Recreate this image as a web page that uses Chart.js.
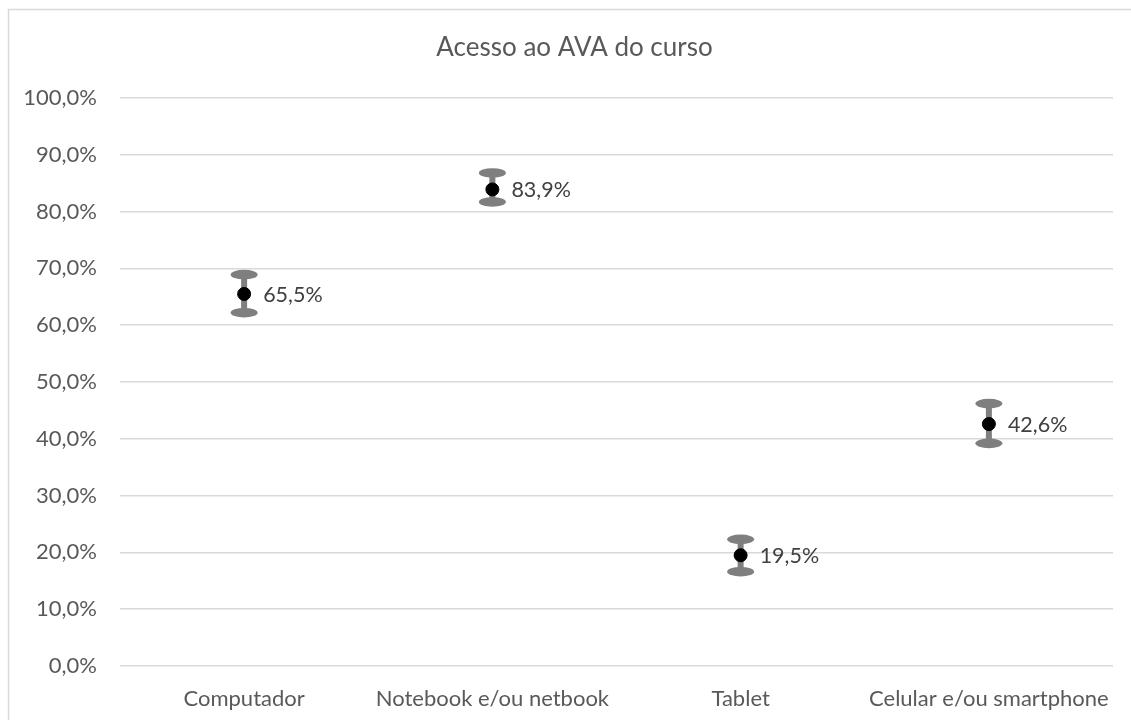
<!DOCTYPE html>
<html>
<head>
<meta charset="utf-8">
<script src="https://cdn.jsdelivr.net/npm/chart.js@4/dist/chart.umd.min.js"></script>
<style>
  html, body { margin: 0; padding: 0; background: #ffffff; }
  #wrap { position: relative; width: 1131px; height: 720px; }
</style>
</head>
<body>
<div id="wrap"><canvas id="c" width="1131" height="720"></canvas></div>
<script>
const chartTitle = 'Acesso ao AVA do curso';
const categories = ['Computador', 'Notebook e/ou netbook', 'Tablet', 'Celular e/ou smartphone'];
const values = [65.5, 83.9, 19.5, 42.6];
const errLow = [62.2, 81.7, 16.6, 39.2];
const errHigh = [68.9, 86.8, 22.3, 46.2];
const yMin = 0, yMax = 100, yStep = 10;

const FONT = 'Lato, "Open Sans", sans-serif';
const fmt = v => v.toFixed(1).replace('.', ',') + '%';

const frame = {
  id: 'frame',
  beforeDraw(chart) {
    const ctx = chart.ctx;
    ctx.save();
    ctx.fillStyle = '#ffffff';
    ctx.fillRect(0, 0, chart.width, chart.height);
    ctx.strokeStyle = '#d9d9d9';
    ctx.lineWidth = 1.5;
    ctx.beginPath();
    ctx.moveTo(8.5, chart.height + 2);
    ctx.lineTo(8.5, 9.5);
    ctx.lineTo(chart.width + 2, 9.5);
    ctx.stroke();
    ctx.fillStyle = '#595959';
    ctx.font = '26px ' + FONT;
    ctx.textAlign = 'center';
    ctx.textBaseline = 'middle';
    ctx.fillText(chartTitle, 574.5, 48);
    ctx.restore();
  }
};

const errorBars = {
  id: 'errorBars',
  beforeDatasetsDraw(chart) {
    const ctx = chart.ctx, xs = chart.scales.x, ys = chart.scales.y;
    ctx.save();
    ctx.fillStyle = '#7f7f7f';
    ctx.strokeStyle = '#7f7f7f';
    for (let i = 0; i < values.length; i++) {
      const x = xs.getPixelForValue(i);
      const yl = ys.getPixelForValue(errLow[i]);
      const yh = ys.getPixelForValue(errHigh[i]);
      ctx.lineWidth = 6;
      ctx.beginPath();
      ctx.moveTo(x, yl);
      ctx.lineTo(x, yh);
      ctx.stroke();
      [yl, yh].forEach(y => {
        ctx.beginPath();
        ctx.ellipse(x, y, 13.5, 4.8, 0, 0, Math.PI * 2);
        ctx.fill();
      });
    }
    ctx.restore();
  },
  afterDatasetsDraw(chart) {
    const ctx = chart.ctx, xs = chart.scales.x, ys = chart.scales.y;
    ctx.save();
    ctx.fillStyle = '#404040';
    ctx.font = '21.5px ' + FONT;
    ctx.textAlign = 'left';
    ctx.textBaseline = 'middle';
    for (let i = 0; i < values.length; i++) {
      const x = xs.getPixelForValue(i);
      const y = ys.getPixelForValue(values[i]);
      ctx.fillText(fmt(values[i]), x + 19, y + 1);
    }
    ctx.restore();
  }
};

new Chart(document.getElementById('c'), {
  type: 'line',
  data: {
    labels: categories,
    datasets: [{
      data: values,
      showLine: false,
      pointRadius: 6.5,
      pointHoverRadius: 6.5,
      pointBackgroundColor: '#000000',
      pointBorderColor: '#000000',
      pointBorderWidth: 1
    }]
  },
  options: {
    responsive: false,
    animation: false,
    events: [],
    layout: { padding: { left: 0, right: 18, top: 98, bottom: 0 } },
    plugins: {
      legend: { display: false },
      tooltip: { enabled: false },
      title: { display: false }
    },
    scales: {
      x: {
        type: 'category',
        offset: true,
        grid: { display: false, drawTicks: false },
        border: { display: false },
        ticks: {
          color: '#595959',
          font: { family: FONT, size: 22 },
          padding: 20,
          maxRotation: 0,
          autoSkip: false
        },
        afterFit(s) { s.height = 54; }
      },
      y: {
        min: yMin,
        max: yMax,
        grid: { color: '#d9d9d9', lineWidth: 1.5, drawTicks: false },
        border: { display: false },
        ticks: {
          stepSize: yStep,
          color: '#595959',
          font: { family: FONT, size: 22 },
          padding: 23,
          callback: v => fmt(v)
        },
        afterFit(s) { s.width = 120; }
      }
    }
  },
  plugins: [frame, errorBars]
});
</script>
</body>
</html>
